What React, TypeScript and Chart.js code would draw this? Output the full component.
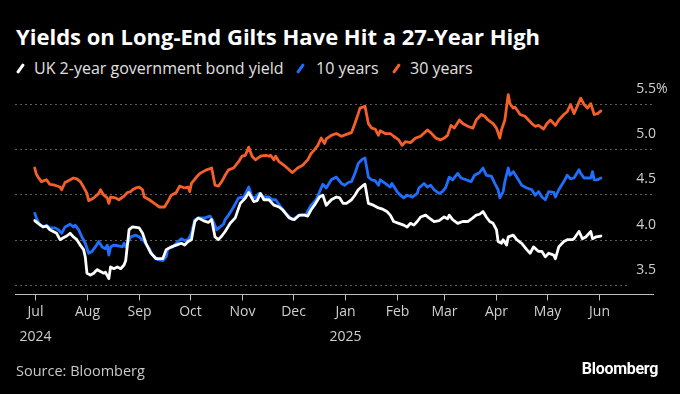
import React, { useEffect, useRef } from "react";
import { Chart, registerables } from "chart.js";

Chart.register(...registerables);

const titleText = "Yields on Long-End Gilts Have Hit a 27-Year High";
const seriesNames = ["UK 2-year government bond yield", "10 years", "30 years"];
const seriesColors = ["#ffffff", "#1f6fff", "#f5602a"];

// x values are days since 2024-07-01
const monthLabels = ["Jul", "Aug", "Sep", "Oct", "Nov", "Dec", "Jan", "Feb", "Mar", "Apr", "May", "Jun"];
const yearLabels = ["2024", "", "", "", "", "", "2025", "", "", "", "", ""];
const monthStartDays = [0, 31, 62, 92, 123, 153, 184, 215, 243, 274, 304, 335];
const yTicks = [3.5, 4.0, 4.5, 5.0, 5.5];

const twoYearDays = [0,2,5,7,9,11,13,15,17,19,21,23,25,27,29,30,31,33,35,37,39,41,42,44,45,47,49,51,53,54,56,58,62,64,66,69,72,76,78,81,84,87,89,91,93,95,97,100,103,105,107,109,111,113,116,119,122,125,127,130,132,134,136,139,142,145,147,151,154,157,160,162,164,166,169,171,173,176,179,181,183,185,188,190,192,195,196,198,201,204,206,209,211,213,216,219,221,223,225,227,229,232,234,237,240,243,245,246,248,251,254,257,260,262,264,266,268,270,272,274,275,277,278,280,281,284,286,289,292,294,296,299,301,303,305,308,309,311,314,316,319,320,323,325,327,330,331,333,336];
const twoYear = [4.21,4.18,4.14,4.15,4.11,4.09,4.07,4.00,4.02,4.04,4.07,4.03,4.00,3.94,3.89,3.81,3.63,3.61,3.63,3.67,3.65,3.63,3.64,3.57,3.70,3.68,3.70,3.68,3.72,3.77,4.11,4.14,4.13,4.07,3.96,3.85,3.79,3.79,3.89,3.92,3.94,3.96,3.94,3.98,4.00,4.20,4.24,4.21,4.19,4.22,4.03,4.00,4.04,4.09,4.18,4.24,4.40,4.46,4.52,4.42,4.43,4.51,4.44,4.44,4.38,4.36,4.33,4.24,4.22,4.27,4.27,4.26,4.33,4.38,4.47,4.49,4.38,4.44,4.47,4.46,4.40,4.40,4.44,4.49,4.55,4.60,4.61,4.40,4.38,4.35,4.34,4.31,4.27,4.20,4.18,4.16,4.14,4.18,4.16,4.20,4.25,4.27,4.24,4.20,4.21,4.25,4.23,4.27,4.22,4.18,4.20,4.20,4.24,4.27,4.28,4.31,4.25,4.20,4.18,4.11,3.98,3.96,4.00,3.94,4.03,4.05,4.00,3.96,3.89,3.85,3.92,3.87,3.87,3.81,3.85,3.83,3.79,3.92,3.98,4.00,4.00,4.01,4.09,4.01,4.03,4.09,4.01,4.03,4.04];

const tenYearDays = [0,1,3,5,7,9,12,14,16,18,21,23,24,26,28,30,32,34,36,38,40,42,43,44,45,47,50,52,53,54,57,60,62,65,68,70,73,76,78,79,82,85,87,89,91,93,95,98,101,104,106,108,110,112,113,115,118,121,124,127,129,131,133,136,139,141,143,146,150,153,156,158,161,164,167,170,171,173,176,179,182,184,186,188,190,192,194,196,198,200,202,204,205,208,211,212,215,217,219,221,224,227,228,231,233,235,237,240,242,244,246,248,251,253,256,259,261,264,266,268,271,273,275,276,278,279,281,282,284,286,289,292,295,297,299,301,303,305,308,309,311,314,316,318,320,323,324,326,328,330,331,332,334,336];
const tenYear = [4.29,4.24,4.16,4.14,4.16,4.13,4.13,4.11,4.07,4.14,4.17,4.14,4.16,4.11,4.03,3.96,3.85,3.87,3.92,3.98,3.92,3.90,3.94,3.83,3.92,3.94,3.93,3.92,3.96,3.92,4.03,4.05,4.03,3.98,3.90,3.83,3.78,3.77,3.81,3.90,3.92,3.98,4.01,3.99,4.00,4.07,4.22,4.24,4.24,4.26,4.20,4.11,4.14,4.17,4.22,4.27,4.36,4.46,4.47,4.58,4.47,4.46,4.51,4.47,4.47,4.44,4.44,4.36,4.27,4.22,4.26,4.27,4.28,4.38,4.44,4.57,4.61,4.57,4.66,4.69,4.62,4.60,4.63,4.64,4.73,4.84,4.88,4.90,4.69,4.66,4.65,4.60,4.66,4.62,4.58,4.62,4.53,4.49,4.46,4.49,4.47,4.51,4.57,4.62,4.58,4.60,4.55,4.51,4.53,4.58,4.69,4.66,4.73,4.68,4.66,4.64,4.71,4.74,4.79,4.71,4.70,4.62,4.55,4.46,4.53,4.64,4.79,4.71,4.75,4.69,4.60,4.57,4.55,4.49,4.53,4.47,4.44,4.53,4.52,4.47,4.55,4.64,4.71,4.67,4.68,4.77,4.73,4.68,4.68,4.68,4.75,4.66,4.66,4.68];

const thirtyYearDays = [0,1,2,4,7,9,12,15,16,18,20,23,25,27,29,31,32,35,38,39,41,43,44,45,48,50,53,55,57,58,60,62,64,65,68,71,74,77,79,81,84,86,89,91,92,93,96,98,100,102,105,107,109,111,113,115,118,121,123,125,127,129,131,134,137,139,140,142,143,145,148,151,153,156,159,162,164,166,168,170,172,173,176,179,182,185,188,190,192,193,196,198,200,202,204,205,208,211,213,216,218,220,223,226,229,233,235,238,241,243,245,247,249,252,254,257,260,262,265,267,269,272,274,276,277,279,281,282,284,285,287,288,291,293,295,297,299,302,304,306,309,311,314,316,318,320,321,324,326,328,330,332,334,336];
const thirtyYear = [4.79,4.72,4.69,4.64,4.66,4.61,4.60,4.58,4.55,4.63,4.65,4.68,4.67,4.64,4.58,4.51,4.43,4.46,4.51,4.55,4.49,4.46,4.40,4.47,4.46,4.44,4.48,4.52,4.53,4.55,4.57,4.58,4.55,4.47,4.44,4.40,4.36,4.36,4.42,4.49,4.52,4.59,4.57,4.58,4.53,4.62,4.69,4.73,4.75,4.77,4.79,4.60,4.59,4.64,4.71,4.77,4.79,4.86,4.92,4.93,5.02,4.92,4.88,4.92,4.93,4.92,4.93,4.88,4.92,4.86,4.82,4.77,4.74,4.79,4.82,4.88,4.95,4.99,5.04,5.12,5.06,5.11,5.15,5.17,5.14,5.16,5.18,5.28,5.39,5.45,5.47,5.28,5.23,5.22,5.15,5.20,5.17,5.17,5.14,5.10,5.04,5.08,5.07,5.12,5.14,5.21,5.18,5.12,5.10,5.12,5.15,5.26,5.23,5.32,5.28,5.25,5.23,5.32,5.38,5.36,5.32,5.28,5.23,5.12,5.21,5.32,5.60,5.50,5.45,5.46,5.41,5.38,5.36,5.32,5.28,5.25,5.26,5.22,5.28,5.32,5.26,5.32,5.38,5.41,5.49,5.39,5.43,5.56,5.49,5.45,5.50,5.38,5.39,5.42];

const FONT = "'Open Sans', Roboto, sans-serif";

const axisPlugin = {
  id: "bbgAxes",
  beforeDatasetsDraw(chart: any) {
    const { ctx, chartArea, scales } = chart;
    const xs = scales.x;
    const ys = scales.y;
    ctx.save();
    ctx.setLineDash([2, 3]);
    ctx.strokeStyle = "#5f5f5f";
    ctx.lineWidth = 1;
    yTicks.forEach((v) => {
      const y = Math.round(ys.getPixelForValue(v)) + 0.5;
      ctx.beginPath();
      ctx.moveTo(chartArea.left, y);
      ctx.lineTo(v === yTicks[0] ? chartArea.right - 26 : chartArea.right, y);
      ctx.stroke();
    });
    ctx.setLineDash([]);
    ctx.font = `14px ${FONT}`;
    ctx.fillStyle = "#cfcfcf";
    ctx.textBaseline = "middle";
    yTicks.forEach((v, i) => {
      const y = ys.getPixelForValue(v) - 15;
      ctx.textAlign = "right";
      ctx.fillText(v.toFixed(1), chartArea.right + 2, y);
      if (i === yTicks.length - 1) {
        ctx.textAlign = "left";
        ctx.fillText("%", chartArea.right + 2, y);
      }
    });
    const by = chartArea.bottom + 0.5;
    ctx.strokeStyle = "#bdbdbd";
    ctx.lineWidth = 1;
    ctx.beginPath();
    ctx.moveTo(chartArea.left, by);
    ctx.lineTo(chartArea.right, by);
    ctx.stroke();
    ctx.textAlign = "center";
    monthStartDays.forEach((d, i) => {
      const x = Math.round(xs.getPixelForValue(d)) + 0.5;
      ctx.beginPath();
      ctx.moveTo(x, by);
      ctx.lineTo(x, by + 6);
      ctx.stroke();
      ctx.fillText(monthLabels[i], x, chartArea.bottom + 18);
      if (yearLabels[i]) ctx.fillText(yearLabels[i], x, chartArea.bottom + 43);
    });
    ctx.restore();
  },
};

export default function App() {
  const ref = useRef<HTMLCanvasElement | null>(null);
  useEffect(() => {
    document.body.style.margin = "0";
    document.body.style.background = "#000";
    const mk = (days: number[], vals: number[]) => days.map((d, i) => ({ x: d, y: vals[i] }));
    const chart = new Chart(ref.current as HTMLCanvasElement, {
      type: "line",
      data: {
        datasets: [
          { label: seriesNames[0], data: mk(twoYearDays, twoYear), borderColor: seriesColors[0] },
          { label: seriesNames[1], data: mk(tenYearDays, tenYear), borderColor: seriesColors[1] },
          { label: seriesNames[2], data: mk(thirtyYearDays, thirtyYear), borderColor: seriesColors[2] },
        ],
      },
      options: {
        animation: false,
        responsive: false,
        maintainAspectRatio: false,
        devicePixelRatio: 1,
        layout: { padding: { left: 15, right: 26, top: 90, bottom: 100 } },
        scales: {
          x: { type: "linear", min: -11.7, max: 367.5, display: false },
          y: { type: "linear", min: 3.4008, max: 5.65, display: false },
        },
        plugins: { legend: { display: false }, tooltip: { enabled: false } },
        elements: {
          line: { borderWidth: 2.8, tension: 0, borderJoinStyle: "round", borderCapStyle: "round" },
          point: { radius: 0 },
        },
      },
      plugins: [axisPlugin],
    } as any);
    return () => chart.destroy();
  }, []);

  const marker = (color: string, left: number) => (
    <div
      style={{
        position: "absolute",
        left,
        top: 63,
        width: 3,
        height: 11,
        background: color,
        transform: "rotate(35deg)",
        borderRadius: 1,
      }}
    />
  );
  const legendText = (text: string, left: number) => (
    <div style={{ position: "absolute", left, top: 58, lineHeight: "20px", fontSize: 16, color: "#e0e0e0", whiteSpace: "nowrap" }}>
      {text}
    </div>
  );

  return (
    <div
      style={{
        position: "fixed",
        left: 0,
        top: 0,
        width: 680,
        height: 394,
        background: "#000",
        overflow: "hidden",
        fontFamily: FONT,
      }}
    >
      <div style={{ position: "absolute", left: 16, top: 21, fontSize: 22, fontWeight: 700, color: "#fff", lineHeight: "30px", whiteSpace: "nowrap" }}>
        {titleText}
      </div>
      {marker(seriesColors[0], 19)}
      {legendText(seriesNames[0], 34)}
      {marker(seriesColors[1], 299)}
      {legendText(seriesNames[1], 316)}
      {marker(seriesColors[2], 395)}
      {legendText(seriesNames[2], 410)}
      <canvas ref={ref} width={680} height={394} style={{ position: "absolute", left: 0, top: 0, width: 680, height: 394 }} />
      <div style={{ position: "absolute", left: 16, top: 361, fontSize: 14.5, color: "#c8c8c8", lineHeight: "20px" }}>Source: Bloomberg</div>
      <div style={{ position: "absolute", right: 22, top: 359, fontSize: 16, fontWeight: 700, color: "#fff", lineHeight: "20px", letterSpacing: -0.3, fontFamily: "Roboto, sans-serif" }}>Bloomberg</div>
    </div>
  );
}
